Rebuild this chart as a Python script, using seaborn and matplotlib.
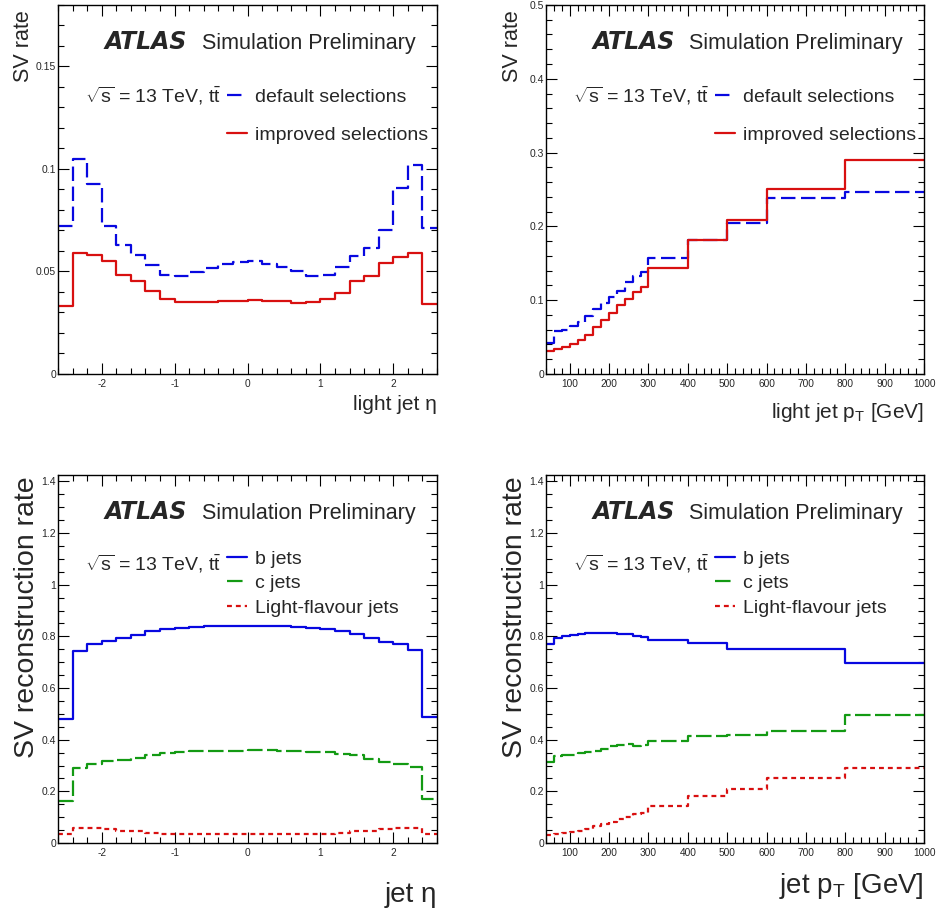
import numpy as np
import pandas as pd
import matplotlib
matplotlib.use('Agg')
import matplotlib.pyplot as plt
from matplotlib.lines import Line2D
from matplotlib.ticker import MultipleLocator, FuncFormatter
import seaborn as sns

# binning
eta_edges = [-2.6, -2.4, -2.2, -2.0, -1.8, -1.6, -1.4, -1.2, -1.0, -0.8, -0.6, -0.4, -0.2, 0.0,
             0.2, 0.4, 0.6, 0.8, 1.0, 1.2, 1.4, 1.6, 1.8, 2.0, 2.2, 2.4, 2.6]
pt_edges = [40, 60, 80, 100, 120, 140, 160, 180, 200, 220, 240, 260, 280, 300,
            400, 500, 600, 800, 1000]

# SV rate in light jets vs eta
default_eta = [0.072, 0.105, 0.0926, 0.0724, 0.0629, 0.058, 0.053, 0.0482, 0.0479, 0.0498, 0.0515, 0.0536, 0.0546,
               0.0551, 0.0534, 0.0523, 0.0502, 0.0477, 0.0482, 0.0523, 0.0577, 0.0613, 0.0703, 0.0907, 0.1018, 0.0714]
improved_eta = [0.0332, 0.0592, 0.058, 0.0551, 0.0482, 0.0454, 0.0405, 0.0366, 0.0351, 0.0351, 0.0353, 0.0356, 0.0355,
                0.0361, 0.0356, 0.0356, 0.0346, 0.0351, 0.0366, 0.0397, 0.0453, 0.048, 0.0539, 0.0569, 0.0588, 0.0343]

# SV rate in light jets vs pT
default_pt = [0.042, 0.058, 0.060, 0.065, 0.071, 0.079, 0.088, 0.096, 0.104, 0.112, 0.125, 0.133, 0.138,
              0.157, 0.182, 0.204, 0.238, 0.246]
improved_pt = [0.031, 0.034, 0.037, 0.041, 0.046, 0.053, 0.064, 0.073, 0.082, 0.093, 0.101, 0.111, 0.118,
               0.143, 0.181, 0.208, 0.250, 0.290]

# SV reconstruction rate per flavour vs eta
b_eta = [0.48, 0.742, 0.770, 0.781, 0.794, 0.806, 0.819, 0.827, 0.832, 0.837, 0.839, 0.841, 0.842,
         0.842, 0.841, 0.840, 0.837, 0.832, 0.827, 0.822, 0.808, 0.792, 0.779, 0.770, 0.747, 0.487]
c_eta = [0.163, 0.292, 0.307, 0.318, 0.320, 0.331, 0.340, 0.350, 0.352, 0.355, 0.356, 0.356, 0.356,
         0.359, 0.359, 0.358, 0.356, 0.352, 0.352, 0.346, 0.340, 0.325, 0.315, 0.305, 0.295, 0.170]
light_eta = improved_eta

# SV reconstruction rate per flavour vs pT
b_pt = [0.772, 0.795, 0.803, 0.806, 0.810, 0.813, 0.814, 0.814, 0.813, 0.810, 0.808, 0.801, 0.797,
        0.787, 0.775, 0.751, 0.751, 0.696]
c_pt = [0.312, 0.335, 0.339, 0.341, 0.347, 0.354, 0.358, 0.363, 0.375, 0.379, 0.382, 0.375, 0.379,
        0.396, 0.416, 0.418, 0.435, 0.496]
light_pt = improved_pt

BLUE = '#0808e0'
RED = '#d81010'
GREEN = '#139a13'
LW = 1.6
LS_DEFAULT = (0, (6.5, 2.5))
LS_C = (0, (7, 2))
LS_LIGHT = (0, (2.2, 1.8))

sns.set_style('ticks')
plt.rcParams['font.family'] = ['Liberation Sans', 'DejaVu Sans']
plt.rcParams['mathtext.fontset'] = 'custom'
plt.rcParams['mathtext.rm'] = 'Liberation Sans'
plt.rcParams['mathtext.it'] = 'Liberation Sans:italic'
plt.rcParams['mathtext.bf'] = 'Liberation Sans:bold'
plt.rcParams['axes.unicode_minus'] = False


def draw_hist(ax, edges, values, color, ls='-'):
    centers = [0.5 * (lo + hi) for lo, hi in zip(edges[:-1], edges[1:])]
    df = pd.DataFrame({'x': centers, 'w': values})
    sns.histplot(data=df, x='x', weights='w', bins=list(edges), element='step', fill=False,
                 color=color, linewidth=LW, linestyle=ls, ax=ax)


def style_axis(ax, xlim, ylim, xmaj, xmin, ymaj, ymin):
    ax.set_xlim(*xlim)
    ax.set_ylim(*ylim)
    ax.xaxis.set_major_locator(MultipleLocator(xmaj))
    ax.xaxis.set_minor_locator(MultipleLocator(xmin))
    ax.yaxis.set_major_locator(MultipleLocator(ymaj))
    ax.yaxis.set_minor_locator(MultipleLocator(ymin))
    fmt = FuncFormatter(lambda v, p: '%g' % round(v, 6))
    ax.xaxis.set_major_formatter(fmt)
    ax.yaxis.set_major_formatter(fmt)
    ax.tick_params(which='both', direction='in', top=True, right=True, width=0.8, color='black')
    ax.tick_params(which='major', length=8)
    ax.tick_params(which='minor', length=4)
    ax.tick_params(axis='x', labelsize=7.3, pad=3.5)
    ax.tick_params(axis='y', labelsize=7.5, pad=1.5)
    for sp in ax.spines.values():
        sp.set_visible(True)
        sp.set_linewidth(1.0)
        sp.set_color('black')
    ax.grid(False)


def atlas_label(ax, y):
    ax.text(0.122, y, 'ATLAS', transform=ax.transAxes, fontsize=17, fontweight='bold',
            fontstyle='italic', family='DejaVu Sans', va='baseline')
    ax.text(0.379, y, 'Simulation Preliminary', transform=ax.transAxes, fontsize=15.5, va='baseline')


def energy_label(ax, x, y):
    ax.text(x, y, r'$\sqrt{\mathrm{s}}$ = 13 TeV, t$\bar{\mathrm{t}}$', transform=ax.transAxes,
            fontsize=14, va='baseline')


fig = plt.figure(figsize=(9.4, 9.15), dpi=100)
ax_tl = fig.add_axes([0.0617, 0.5913, 0.4032, 0.4033])
ax_tr = fig.add_axes([0.5809, 0.5913, 0.4021, 0.4033])
ax_bl = fig.add_axes([0.0617, 0.0787, 0.4032, 0.4022])
ax_br = fig.add_axes([0.5809, 0.0787, 0.4021, 0.4022])

sel_handles = [Line2D([], [], color=BLUE, lw=LW, ls=LS_DEFAULT), Line2D([], [], color=RED, lw=LW)]
sel_labels = ['default selections', 'improved selections']
flav_handles = [Line2D([], [], color=BLUE, lw=LW), Line2D([], [], color=GREEN, lw=LW, ls=LS_C),
                Line2D([], [], color=RED, lw=LW, ls=LS_LIGHT)]
flav_labels = ['b jets', 'c jets', 'Light-flavour jets']

# top left: light jets vs eta
draw_hist(ax_tl, eta_edges, default_eta, BLUE, LS_DEFAULT)
draw_hist(ax_tl, eta_edges, improved_eta, RED)
style_axis(ax_tl, (-2.6, 2.6), (0, 0.18), 1, 0.2, 0.05, 0.01)

# top right: light jets vs pT
draw_hist(ax_tr, pt_edges, default_pt, BLUE, LS_DEFAULT)
draw_hist(ax_tr, pt_edges, improved_pt, RED)
style_axis(ax_tr, (40, 1000), (0, 0.5), 100, 20, 0.1, 0.02)

# bottom left: flavours vs eta
draw_hist(ax_bl, eta_edges, b_eta, BLUE)
draw_hist(ax_bl, eta_edges, c_eta, GREEN, LS_C)
draw_hist(ax_bl, eta_edges, light_eta, RED, LS_LIGHT)
style_axis(ax_bl, (-2.6, 2.6), (0, 1.425), 1, 0.2, 0.2, 0.05)

# bottom right: flavours vs pT
draw_hist(ax_br, pt_edges, b_pt, BLUE)
draw_hist(ax_br, pt_edges, c_pt, GREEN, LS_C)
draw_hist(ax_br, pt_edges, light_pt, RED, LS_LIGHT)
style_axis(ax_br, (40, 1000), (0, 1.425), 100, 20, 0.2, 0.05)

for ax in (ax_tl, ax_tr):
    atlas_label(ax, 0.88)
    energy_label(ax, 0.071, 0.736)
    ax.legend(sel_handles, sel_labels, loc='upper left', bbox_to_anchor=(0.447, 0.774),
              frameon=False, fontsize=14, handlelength=1.03, handletextpad=0.4,
              labelspacing=1.06, borderpad=0, borderaxespad=0)
    ax.set_ylabel('SV rate', fontsize=15.5, loc='top')
    ax.yaxis.set_label_coords(-0.062, 0.986)

for ax in (ax_bl, ax_br):
    atlas_label(ax, 0.88)
    energy_label(ax, 0.071, 0.740)
    ax.legend(flav_handles, flav_labels, loc='upper left', bbox_to_anchor=(0.447, 0.796),
              frameon=False, fontsize=14, handlelength=1.03, handletextpad=0.4,
              labelspacing=0.36, borderpad=0, borderaxespad=0)
    ax.set_ylabel('SV reconstruction rate', fontsize=20.5, loc='top')
    ax.yaxis.set_label_coords(-0.048, 0.995)

ax_tl.set_xlabel('light jet η', fontsize=15, loc='right')
ax_tl.xaxis.set_label_coords(1.0, -0.056)
ax_tr.set_xlabel(r'light jet p$_{\mathrm{T}}$ [GeV]', fontsize=15, loc='right')
ax_tr.xaxis.set_label_coords(1.0, -0.072)
ax_bl.set_xlabel('jet η', fontsize=20, loc='right')
ax_bl.xaxis.set_label_coords(1.0, -0.105)
ax_br.set_xlabel(r'jet p$_{\mathrm{T}}$ [GeV]', fontsize=20, loc='right')
ax_br.xaxis.set_label_coords(1.0, -0.077)

fig.savefig('out.png', dpi=100)
